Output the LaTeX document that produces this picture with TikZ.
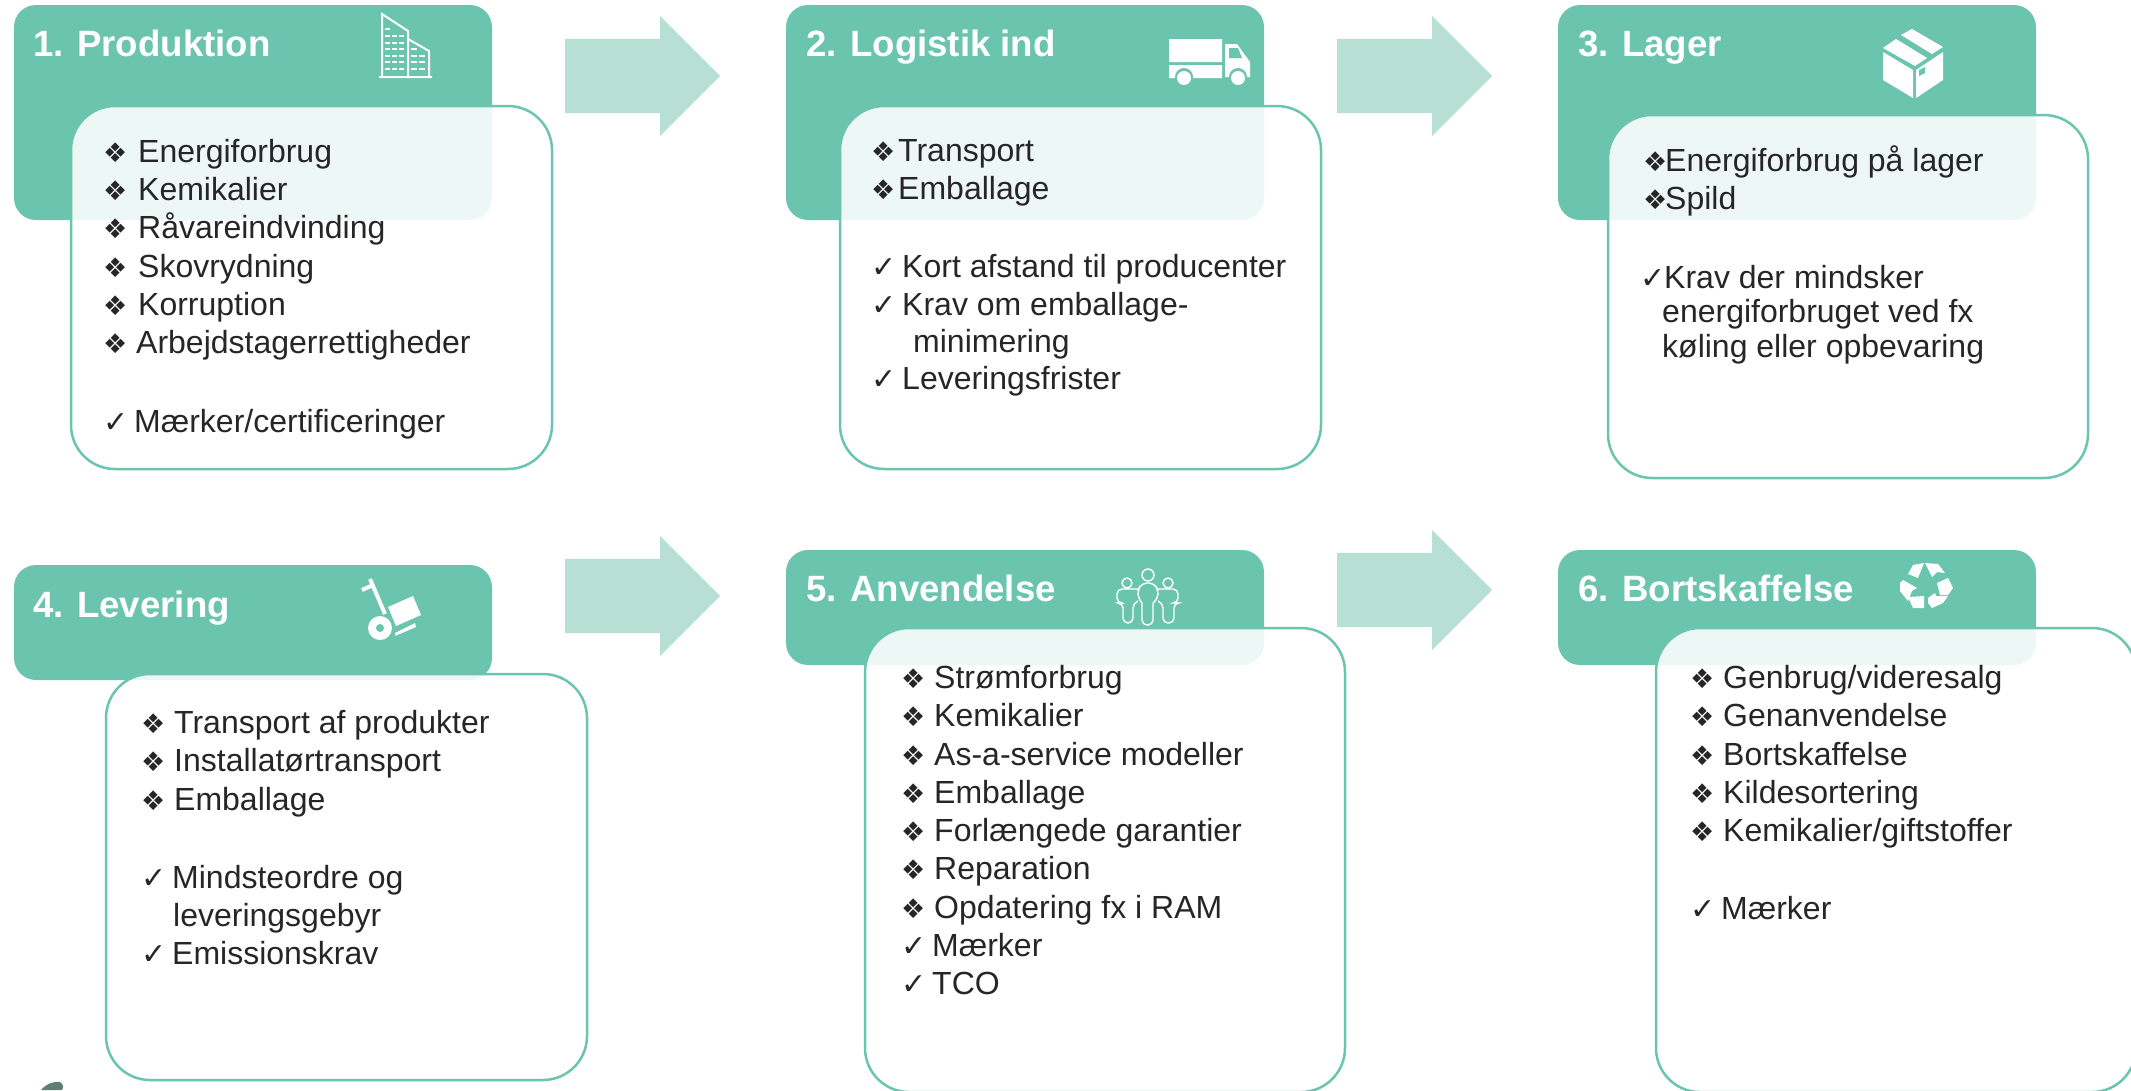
\documentclass[tikz,border=0pt]{standalone}
\usepackage{fontspec}
\setmainfont{Liberation Sans}
\newfontfamily\symfont{DejaVu Sans}
\usetikzlibrary{positioning,shapes.arrows}
\definecolor{headteal}{HTML}{6BC4AD}
\definecolor{arrowteal}{HTML}{B8DFD3}
\definecolor{bodytext}{HTML}{262626}
\definecolor{blobgreen}{HTML}{5F7F73}
\newcommand{\itm}[2][33pt]{\makebox[#1][l]{\symfont\fontsize{27}{27}\selectfont ❖}#2}
\newcommand{\chk}[2][31pt]{\makebox[#1][l]{\symfont\fontsize{30}{30}\selectfont ✓}#2}
\tikzset{
  x=1pt,y=-1pt,
  head/.style={fill=headteal,rounded corners=22pt},
  bodybox/.style={draw=headteal,line width=2.5pt,fill=white,fill opacity=.88,rounded corners=44pt},
  title/.style={anchor=base west,text=white,inner sep=0pt,font=\fontsize{36.6}{40}\selectfont\bfseries},
  items/.style={anchor=north west,inner sep=0pt,align=left,text=bodytext,font=\fontsize{32}{38.3}\selectfont},
  flow/.style={single arrow,fill=arrowteal,minimum height=155pt,minimum width=120pt,
    single arrow head extend=23pt,inner xsep=0pt,inner ysep=37pt,anchor=west},
  icon/.style={draw=white,line width=2pt},
  iconfill/.style={fill=white,draw=none}
}
\begin{document}
\begin{tikzpicture}
  \useasboundingbox (0,0) rectangle (2131,1090);
  % headers
  \fill[head] (14,5) rectangle (492,220);
  \fill[head] (786,5) rectangle (1264,220);
  \fill[head] (1558,5) rectangle (2036,220);
  \fill[head] (14,565) rectangle (492,680);
  \fill[head] (786,550) rectangle (1264,665);
  \fill[head] (1558,550) rectangle (2036,665);
  % bodies
  \draw[bodybox] (71,106) rectangle (552,469);
  \draw[bodybox] (840,106) rectangle (1321,469);
  \draw[bodybox] (1608,115) rectangle (2088,478);
  \draw[bodybox] (106,674) rectangle (587,1080);
  \draw[bodybox] (865,628) rectangle (1345,1092);
  \draw[bodybox] (1656,628) rectangle (2136,1092);
  % arrows
  \node[flow] (flow-a) at (565,76) {};
  \node[flow] (flow-b) at (1337,76) {};
  \node[flow] (flow-c) at (565,596) {};
  \node[flow] (flow-d) at (1337,590) {};
  % titles
  \node[title] (title-a) at (33,56) {1. Produktion};
  \node[title] (title-b) at (806,56) {2. Logistik ind};
  \node[title] (title-c) at (1578,56) {3. Lager};
  \node[title] (title-d) at (33,617) {4. Levering};
  \node[title] (title-e) at (806,601) {5. Anvendelse};
  \node[title] (title-f) at (1578,601) {6. Bortskaffelse};
  % lists
  \node[items] (list-a) at (103,139) {\itm[35pt]{Energiforbrug}\\\itm[35pt]{Kemikalier}\\\itm[35pt]{Råvareindvinding}\\\itm[35pt]{Skovrydning}\\\itm[35pt]{Korruption}\\\itm{Arbejdstagerrettigheder}\\[40pt]\chk{Mærker/certificeringer}};
  \node[items] (list-b) at (871,139) {\itm[27pt]{Transport}\\\itm[27pt]{Emballage}\\[40pt]\chk{Kort afstand til producenter}\\[-1pt]\chk{Krav om emballage-}\\[-1pt]\hspace{42pt}minimering\\[-1pt]\chk{Leveringsfrister}};
  \node[items] (list-c) at (1643,145) {\itm[22pt]{Energiforbrug på lager}\\\itm[22pt]{Spild}\\[41pt]\hspace{-3pt}\chk[24pt]{Krav der mindsker}\\[-4pt]\hspace{19pt}energiforbruget ved fx\\[-4pt]\hspace{19pt}køling eller opbevaring};
  \node[items] (list-d) at (141,710) {\itm{Transport af produkter}\\\itm{Installatørtransport}\\\itm{Emballage}\\[40pt]\chk{Mindsteordre og}\\\hspace{32pt}leveringsgebyr\\\chk{Emissionskrav}};
  \node[items] (list-e) at (901,665) {\itm{Strømforbrug}\\\itm{Kemikalier}\\\itm{As-a-service modeller}\\\itm{Emballage}\\\itm{Forlængede garantier}\\\itm{Reparation}\\\itm{Opdatering fx i RAM}\\\chk{Mærker}\\\chk{TCO}};
  \node[items] (list-f) at (1690,665) {\itm{Genbrug/videresalg}\\\itm{Genanvendelse}\\\itm{Bortskaffelse}\\\itm{Kildesortering}\\\itm{Kemikalier/giftstoffer}\\[40pt]\chk{Mærker}};
  % building
  \draw[icon] (379,77) -- (432,77) (382,77) -- (382,14) -- (408,31) -- (408,77) (408,39) -- (429,51) -- (429,77);
  \foreach \yy in {36,43,49,56,62,69} \draw[white,line width=1.6pt,dash pattern=on 5pt off 2pt] (385,\yy) -- (405,\yy);
  \foreach \yy in {56,62,69} \draw[white,line width=1.6pt,dash pattern=on 6pt off 2pt] (411,\yy) -- (426,\yy);
  \draw[white,line width=1.6pt] (385,29) -- (390,29) (411,49) -- (417,49);
  % truck
  \fill[iconfill] (1169,39) rectangle (1222,62) (1169,65) rectangle (1222,78) (1225,44) -- (1237,44) -- (1250,62) -- (1250,77) -- (1225,77) -- cycle;
  \fill[headteal] (1229,48) -- (1238,48) -- (1242,58) -- (1229,58) -- cycle (1184,77) circle (9) (1238,77) circle (9);
  \fill[iconfill] (1184,78) circle (7) (1238,78) circle (7);
  % box
  \fill[iconfill] (1901,35) -- (1912,29) -- (1943,47) -- (1932,54) -- cycle
    (1883,48) -- (1896,39) -- (1927,58) -- (1915,66) -- cycle
    (1883,52) -- (1913,70) -- (1913,98) -- (1883,80) -- cycle
    (1916,70) -- (1943,52) -- (1943,80) -- (1916,98) -- cycle;
  \fill[headteal] (1919,70) -- (1925,67) -- (1925,73) -- (1919,76) -- cycle;
  % people
  \draw[white,line width=1.4pt,rounded corners=5pt] (1148,575) circle (6) (1127,583) circle (5) (1168,583) circle (5)
    (1142,603) -- (1142,625) -- (1153,625) -- (1153,603) (1142,603) -- (1138,598) -- (1138,590) -- (1142,583) -- (1154,583) -- (1158,590) -- (1158,598) -- (1153,603)
    (1158,589) -- (1178,589) -- (1178,603) -- (1174,603) -- (1174,623) -- (1163,623) -- (1163,603) -- (1158,601)
    (1138,589) -- (1117,589) -- (1117,603) -- (1123,603) -- (1123,623) -- (1133,623) -- (1133,603) -- (1138,601);
  % hand truck
  \draw[white,line width=4pt] (362,590) -- (373,585) (370,579) -- (385,614);
  \fill[iconfill] (388,607) -- (413,596) -- (421,615) -- (396,626) -- cycle (380,628) circle (12)
    (395,633) -- (415,623) -- (416,627) -- (395,636) -- cycle;
  \fill[headteal] (380,628) circle (4);
  % recycling
  \fill[iconfill] (1908,574) -- (1913,565) -- (1924,563) -- (1918,578) -- cycle
    (1925,563) -- (1938,564) -- (1945,573) -- (1937,572) -- (1932,577) -- cycle
    (1937,583) -- (1948,578) -- (1953,588) -- (1948,595) -- (1940,595) -- cycle
    (1928,598) -- (1935,593) -- (1936,596) -- (1948,596) -- (1943,603) -- (1932,608) -- (1928,603) -- cycle
    (1908,597) -- (1924,596) -- (1924,608) -- (1913,608) -- cycle
    (1900,583) -- (1903,580) -- (1917,588) -- (1912,591) -- (1908,601) -- (1900,591) -- cycle;
  % corner
  \fill[blobgreen] (41,1090) .. controls (47,1083) and (55,1081) .. (60,1082) .. controls (63,1084) and (64,1087) .. (62,1090) -- cycle;
\end{tikzpicture}
\end{document}
